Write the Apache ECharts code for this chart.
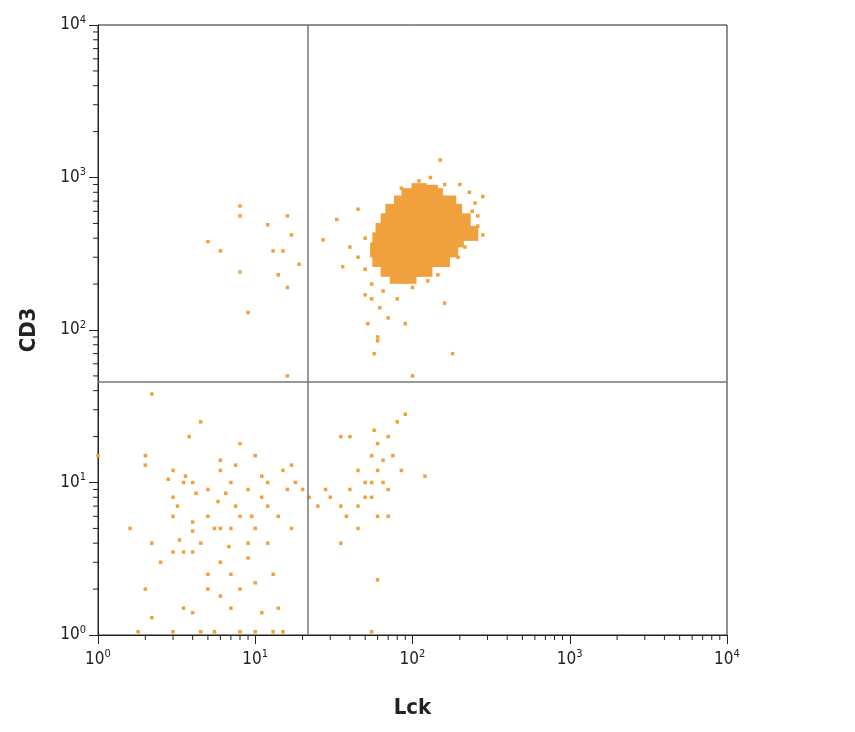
<!DOCTYPE html>
<html><head><meta charset="utf-8">
<script src="https://cdn.jsdelivr.net/npm/echarts@6/dist/echarts.min.js"></script>
<style>html,body{margin:0;padding:0;background:#fff}#c{width:855px;height:732px}</style>
</head><body><div id="c"></div>
<script>
const xTitle = 'Lck', yTitle = 'CD3';
const quadX = 21.6, quadY = 46;
const blob = [[110,820],[130,800],[95,760],[115,760],[140,760],[85,680],[100,680],[120,680],[145,680],[170,680],[75,600],[90,600],[110,600],[130,600],[155,600],[185,600],[70,520],[85,520],[100,520],[120,520],[145,520],[175,520],[210,520],[65,450],[80,450],[95,450],[115,450],[140,450],[165,450],[200,450],[235,430],[62,390],[75,390],[90,390],[110,390],[130,390],[160,390],[190,390],[60,335],[72,335],[88,335],[105,335],[125,335],[150,335],[175,335],[62,290],[75,290],[90,290],[108,290],[130,290],[155,290],[70,250],[85,250],[100,250],[120,250],[80,225],[95,225]];
const upper = [[8,650],[8,560],[5,380],[6,330],[8,240],[9,130],[12,490],[13,330],[16,560],[15,330],[17,420],[14,230],[19,270],[16,190],[27,390],[33,530],[36,260],[40,350],[45,620],[50,170],[55,160],[52,110],[57,70],[60,90],[62,140],[70,120],[80,160],[90,110],[100,50],[100,190],[160,150],[180,70],[230,800],[260,480],[280,420],[200,900],[150,1300],[280,750],[16,50],[60,85],[50,250],[45,300],[240,600],[250,680],[130,1000],[110,950],[55,200],[65,180],[125,210],[145,230],[195,300],[215,350],[260,560],[85,850],[160,900],[50,400]];
const lowerLeft = [[2.2,38],[4.5,25],[3.8,20],[8,18],[10,15],[1,15],[2,15],[3,12],[3.5,10],[4,10],[3,8],[5,9],[6,12],[7,10],[9,9],[11,8],[12,10],[15,12],[16,9],[3,6],[4,5.5],[5,6],[5.5,5],[6,5],[7,5],[8,6],[9,4],[10,5],[12,4],[14,6],[17,5],[1.6,5],[2.2,4],[2.5,3],[3,3.5],[3.5,3.5],[4,3.5],[4.5,4],[6,3],[5,2.5],[7,2.5],[8,2],[10,2.2],[13,2.5],[2,2],[5,2],[6,1.8],[3.5,1.5],[4,1.4],[7,1.5],[11,1.4],[14,1.5],[2.2,1.3],[1.8,1.05],[3,1.05],[4.5,1.05],[5.5,1.05],[8,1.05],[10,1.05],[15,1.05],[13,1.05],[3.2,7],[4.2,8.5],[5.8,7.5],[6.5,8.5],[7.5,7],[9.5,6],[2.8,10.5],[3.6,11],[6,14],[7.5,13],[11,11],[17,13],[18,10],[12,7],[4,4.8],[3.3,4.2],[6.8,3.8],[9,3.2],[2,13]];
const lowerRight = [[35,20],[40,20],[57,22],[60,18],[70,20],[80,25],[90,28],[55,15],[65,14],[75,15],[85,12],[120,11],[45,12],[60,12],[50,10],[55,10],[65,10],[70,9],[40,9],[30,8],[28,9],[35,7],[38,6],[45,7],[50,8],[55,8],[60,6],[70,6],[45,5],[35,4],[60,2.3],[55,1.05],[20,9],[22,8],[25,7]];
const minor = [];
for (let n = 0; n < 4; n++) for (let m = 2; m < 10; m++) minor.push(m * Math.pow(10, n));
const col = '#f0a03c';
const FF = "'DejaVu Sans Condensed', 'Liberation Sans', sans-serif";
const supFmt = v => '10{s|' + Math.round(Math.log10(v)) + '}';
const rich = {s: {fontSize: 11, padding: [0,0,10,0], fontFamily: FF, color: '#222'}};
const chart = echarts.init(document.getElementById('c'));
chart.setOption({
  animation: false,
  grid: {left: 98, right: 128, top: 25, bottom: 97, show: true, borderColor: '#222', borderWidth: 1},
  xAxis: {type: 'log', logBase: 10, min: 1, max: 10000, name: xTitle, nameLocation: 'middle', nameGap: 62,
    nameTextStyle: {fontSize: 22, fontWeight: 'bold', fontFamily: FF, color: '#222'},
    axisLine: {lineStyle: {color: '#222'}}, axisTick: {length: 9, lineStyle: {color: '#222'}}, splitLine: {show: false},
    axisLabel: {formatter: supFmt, rich, fontSize: 17, fontFamily: FF, color: '#222', margin: 14}},
  yAxis: {type: 'log', logBase: 10, min: 1, max: 10000, name: yTitle, nameLocation: 'middle', nameGap: 58,
    nameTextStyle: {fontSize: 22, fontWeight: 'bold', fontFamily: FF, color: '#222'},
    axisLine: {show: true, lineStyle: {color: '#222'}}, axisTick: {length: 9, lineStyle: {color: '#222'}}, splitLine: {show: false},
    axisLabel: {formatter: supFmt, rich, fontSize: 17, fontFamily: FF, color: '#222', margin: 12}},
  series: [
    {type: 'scatter', data: blob, symbol: 'rect', symbolSize: 15, itemStyle: {color: col, opacity: 1}, silent: true,
     markLine: {silent: true, symbol: 'none', label: {show: false}, lineStyle: {color: '#777', width: 1.5, type: 'solid'},
       data: [{xAxis: quadX}, {yAxis: quadY}]}},
    {type: 'scatter', data: upper.concat(lowerLeft, lowerRight), symbol: 'rect', symbolSize: 3.5, itemStyle: {color: col, opacity: 1}},
    {type: 'custom', clip: false, silent: true, data: minor.map(v => [v, 1]),
      renderItem: (p, api) => { const c = api.coord([api.value(0), 1]);
        return {type: 'line', shape: {x1: c[0], y1: c[1], x2: c[0], y2: c[1] + 5}, style: {stroke: '#222', lineWidth: 1}}; }},
    {type: 'custom', clip: false, silent: true, data: minor.map(v => [1, v]),
      renderItem: (p, api) => { const c = api.coord([1, api.value(1)]);
        return {type: 'line', shape: {x1: c[0], y1: c[1], x2: c[0] - 5, y2: c[1]}, style: {stroke: '#222', lineWidth: 1}}; }}
  ]
});
</script></body></html>
